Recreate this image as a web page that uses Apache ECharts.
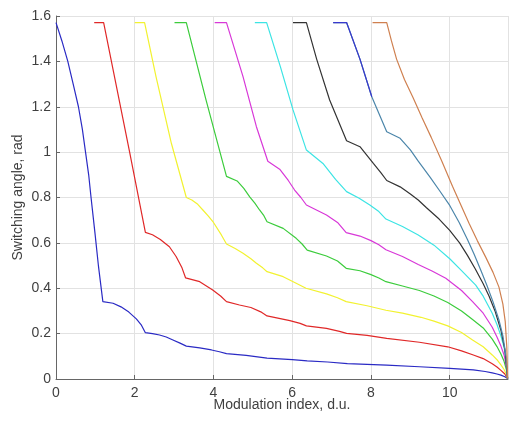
<!DOCTYPE html>
<html>
<head>
<meta charset="utf-8">
<script src="https://cdn.jsdelivr.net/npm/echarts@6/dist/echarts.min.js"></script>
<style>
html,body{margin:0;padding:0;background:#fff;}
#chart{width:509px;height:424px;}
</style>
</head>
<body>
<div id="chart"></div>
<script>
// Curves: [modulation index, switching angle]
const curve1 = [[0,1.571],[0.15,1.49],[0.3,1.40],[0.45,1.29],[0.57,1.20],[0.67,1.10],[0.75,1.0],[0.83,0.90],[0.89,0.80],[0.99,0.643],[1.08,0.495],[1.19,0.341],
  [1.45,0.334],[1.65,0.318],[1.85,0.295],[2.04,0.265],[2.17,0.237],[2.27,0.204],
  [2.45,0.200],[2.63,0.194],[2.8,0.185],[2.97,0.172],[3.15,0.158],[3.31,0.145],
  [3.65,0.137],[3.95,0.128],[4.15,0.12],[4.33,0.112],
  [4.83,0.104],[5.36,0.092],[6.0,0.085],[6.38,0.080],[6.9,0.075],[7.4,0.068],[8.4,0.061],[9.23,0.054],[10.0,0.047],[10.6,0.040],[10.9,0.033],[11.08,0.027],[11.2,0.022],[11.3,0.017],[11.4,0.010],[11.47,0.002]];
const curve2 = [[0.97,1.571],[1.21,1.571],[1.87,1.0],[2.27,0.646],
  [2.45,0.636],[2.65,0.615],[2.88,0.583],[3.05,0.54],[3.2,0.49],[3.29,0.446],
  [3.65,0.429],[3.98,0.392],[4.18,0.366],[4.33,0.341],
  [4.66,0.326],[4.95,0.315],[5.2,0.296],[5.36,0.278],
  [5.94,0.257],[6.2,0.245],[6.36,0.234],[6.87,0.223],[7.2,0.21],[7.38,0.201],[7.9,0.192],[8.4,0.179],[9.23,0.162],[9.95,0.142],[10.3,0.124],[10.6,0.106],[10.85,0.09],[11.08,0.067],[11.2,0.053],[11.3,0.038],[11.4,0.022],[11.47,0.002]];
const curve3 = [[2.0,1.571],[2.25,1.571],[2.54,1.333],[2.93,1.039],[3.31,0.80],
  [3.45,0.789],[3.6,0.77],[3.73,0.745],[3.87,0.718],[4.0,0.69],[4.2,0.635],[4.33,0.595],
  [4.55,0.575],[4.75,0.554],[4.95,0.53],[5.09,0.51],[5.25,0.49],[5.36,0.473],
  [5.77,0.451],[6.1,0.422],[6.35,0.40],
  [6.87,0.375],[7.15,0.358],[7.37,0.341],
  [7.9,0.323],[8.38,0.303],[8.8,0.29],[9.27,0.272],[9.6,0.255],[9.95,0.234],[10.3,0.205],[10.58,0.172],[10.85,0.142],[11.08,0.106],[11.2,0.085],[11.3,0.062],[11.38,0.042],[11.44,0.02],[11.47,0.002]];
const curve4 = [[3.01,1.571],[3.31,1.571],[3.81,1.23],[4.33,0.893],
  [4.6,0.873],[4.77,0.84],[4.92,0.803],[5.05,0.775],[5.17,0.745],[5.28,0.72],[5.36,0.693],
  [5.77,0.664],[6.1,0.62],[6.25,0.595],[6.38,0.568],
  [6.87,0.542],[7.15,0.52],[7.37,0.488],
  [7.72,0.477],[8.0,0.46],[8.2,0.445],[8.38,0.429],
  [8.8,0.41],[9.23,0.39],[9.6,0.366],[9.95,0.337],[10.3,0.3],[10.58,0.262],[10.85,0.225],[11.08,0.176],[11.2,0.143],[11.3,0.11],[11.38,0.078],[11.44,0.04],[11.47,0.002]];
const curve5 = [[4.03,1.571],[4.33,1.571],[4.75,1.333],[5.09,1.112],[5.38,0.960],
  [5.68,0.925],[5.9,0.875],[6.06,0.833],[6.22,0.8],[6.36,0.767],
  [6.87,0.723],[7.15,0.69],[7.37,0.645],
  [7.72,0.63],[8.0,0.61],[8.2,0.592],[8.38,0.57],
  [8.8,0.54],[9.2,0.505],[9.55,0.476],[9.9,0.444],[10.3,0.39],[10.58,0.341],[10.85,0.29],[11.08,0.228],[11.2,0.185],[11.3,0.145],[11.38,0.106],[11.44,0.055],[11.47,0.002]];
const curve6 = [[5.05,1.571],[5.35,1.571],[5.7,1.376],[6.02,1.186],[6.36,1.009],
  [6.78,0.95],[7.1,0.88],[7.38,0.826],
  [7.7,0.797],[7.97,0.767],[8.2,0.738],[8.38,0.705],
  [8.8,0.672],[9.2,0.635],[9.6,0.59],[10.0,0.53],[10.3,0.478],[10.66,0.414],[10.85,0.365],[11.08,0.29],[11.2,0.24],[11.3,0.19],[11.38,0.14],[11.44,0.075],[11.47,0.002]];
const curve7 = [[6.02,1.571],[6.36,1.571],[6.62,1.41],[6.95,1.23],[7.38,1.05],
  [7.72,1.024],[8.06,0.95],[8.25,0.91],[8.4,0.875],
  [8.74,0.847],[9.0,0.815],[9.2,0.789],[9.41,0.755],[9.73,0.705],[10.0,0.655],[10.25,0.6],[10.45,0.545],[10.65,0.485],[10.85,0.42],[11.0,0.365],[11.15,0.3],[11.3,0.215],[11.4,0.13],[11.47,0.002]];
const curve8 = [[7.04,1.571],[7.38,1.571],[7.72,1.41],[8.02,1.244],[8.4,1.09],
  [8.74,1.061],[9.0,1.01],[9.2,0.96],[9.5,0.89],[9.73,0.833],[10.0,0.765],[10.24,0.69],[10.45,0.615],[10.62,0.55],[10.8,0.475],[10.95,0.41],[11.1,0.34],[11.25,0.26],[11.35,0.19],[11.43,0.1],[11.47,0.002]];
const curve9 = [[8.04,1.571],[8.4,1.571],[8.52,1.49],[8.65,1.41],[8.85,1.32],[9.07,1.24],[9.3,1.15],[9.53,1.065],[9.8,0.96],[10.07,0.85],[10.3,0.76],[10.49,0.686],[10.7,0.61],[10.92,0.535],[11.1,0.47],[11.25,0.405],[11.35,0.33],[11.41,0.253],[11.45,0.14],[11.47,0.002]];

const curves = [curve1, curve2, curve3, curve4, curve5, curve6, curve7, curve8, curve9];
const colors = ['#2a2ac4', '#e02828', '#f2f230', '#3ccc3c', '#d838d8', '#3ce4e4', '#333333', '#4c86aa', '#cf8050'];
const curve8TopColor = '#3838cc';
const curve8ColorSwitch = 1.24;

const xTitle = 'Modulation index, d.u.';
const yTitle = 'Switching angle, rad';

const chart = echarts.init(document.getElementById('chart'), null, {renderer: 'canvas'});
const font = 'Liberation Sans, Arial, sans-serif';
const textColor = '#3f3f3f';
const axisColor = '#666';
const gridColor = '#e2e2e2';

function lineSeries(data, color, z) {
  return {
    type: 'line', data: data, showSymbol: false, symbol: 'none', smooth: false,
    color: color, lineStyle: {color: color, width: 1.2}, z: z
  };
}

const series = curves.map((d, i) => lineSeries(d, colors[i], 2 + i));
// curve 8 changes colour near its top: draw its upper part again in blue
const curve8Top = curve8.filter(p => p[1] >= curve8ColorSwitch);
series.push(lineSeries(curve8Top, curve8TopColor, 20));

chart.setOption({
  animation: false,
  backgroundColor: '#fff',
  grid: {left: 56, right: 1, top: 16, bottom: 45, containLabel: false},
  xAxis: {
    type: 'value', min: 0, max: 11.48, interval: 2,
    name: xTitle, nameLocation: 'middle', nameGap: 19, nameMoveOverlap: false,
    nameTextStyle: {fontFamily: font, fontSize: 14, color: textColor},
    axisLine: {show: true, onZero: false, lineStyle: {color: axisColor, width: 1}},
    axisTick: {show: true, inside: true, length: 4, lineStyle: {color: axisColor}},
    axisLabel: {fontFamily: font, fontSize: 14, color: textColor, margin: 7, showMaxLabel: false},
    splitLine: {show: true, lineStyle: {color: gridColor, width: 1}}
  },
  yAxis: {
    type: 'value', min: 0, max: 1.6, interval: 0.2,
    name: yTitle, nameLocation: 'middle', nameGap: 31, nameRotate: 90, nameMoveOverlap: false,
    nameTextStyle: {fontFamily: font, fontSize: 14, color: textColor},
    axisLine: {show: true, onZero: false, lineStyle: {color: axisColor, width: 1}},
    axisTick: {show: true, inside: true, length: 4, lineStyle: {color: axisColor}},
    axisLabel: {fontFamily: font, fontSize: 14, color: textColor, margin: 5},
    splitLine: {show: true, lineStyle: {color: gridColor, width: 1}}
  },
  series: series
});
</script>
</body>
</html>
